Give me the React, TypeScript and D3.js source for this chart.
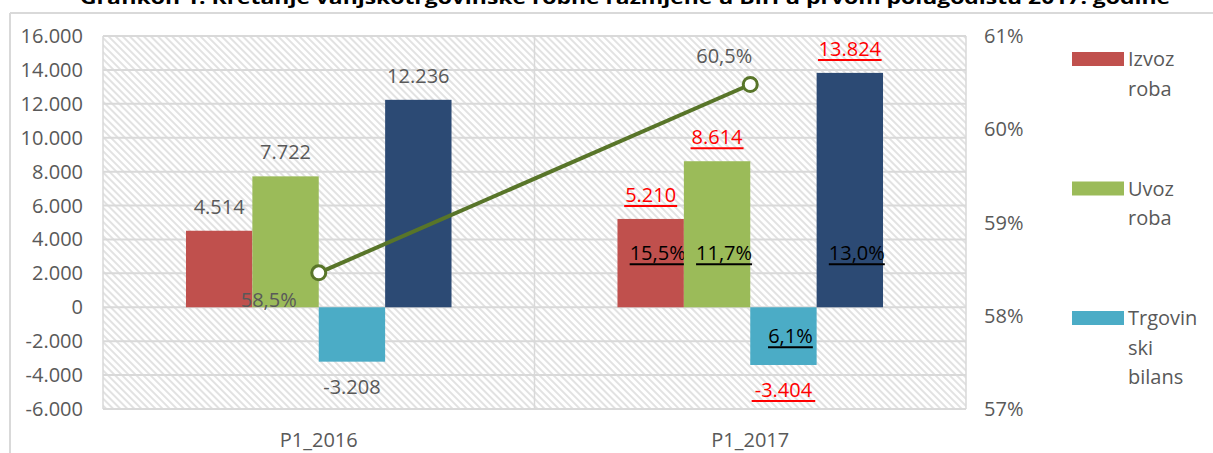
import React from 'react'
import * as d3 from 'd3'

const categories = ['P1_2016', 'P1_2017']
const izvoz = [4514, 5210]
const uvoz = [7722, 8614]
const bilans = [-3208, -3404]
const obim = [12236, 13824]
const pokrivenost = [58.46, 60.48]
const pokrivenostLabels = ['58,5%', '60,5%']
const rastLabels = [
  ['', '', '', ''],
  ['15,5%', '11,7%', '6,1%', '13,0%'],
]
const leftTicks = [-6000, -4000, -2000, 0, 2000, 4000, 6000, 8000, 10000, 12000, 14000, 16000]
const rightTicks = [57, 58, 59, 60, 61]
const legendNames = [['Izvoz', 'roba'], ['Uvoz', 'roba'], ['Trgovin', 'ski', 'bilans']]

const title = 'Grafikon 1: Kretanje vanjskotrgovinske robne razmjene u BiH u prvom polugodištu 2017. godine'

const W = 1213
const H = 453
const plot = { left: 103, right: 966, top: 36, bottom: 409 }
const colors = ['#c0504d', '#9bbb59', '#4bacc6', '#2c4a74']
const lineColor = '#587529'
const gray = '#595959'
const font = '"Open Sans", sans-serif'

const locale = d3.formatLocale({ decimal: ',', thousands: '.', grouping: [3], currency: ['', ''], minus: '-' })
const fmt = locale.format(',d')

export default function App() {
  const series = [izvoz, uvoz, bilans, obim]
  const x = d3.scaleBand().domain(categories).range([plot.left, plot.right])
  const inner = d3.scaleBand<number>().domain([0, 1, 2, 3]).range([0, x.bandwidth()]).paddingOuter(1.25)
  const y = d3.scaleLinear().domain([-6000, 16000]).range([plot.bottom, plot.top])
  const y2 = d3.scaleLinear().domain([57, 61]).range([plot.bottom, plot.top])
  const y0 = y(0)
  const line = d3.line<number>()
    .x((_, i) => (x(categories[i]) as number) + x.bandwidth() / 2)
    .y(d => y2(d))

  // which labels are red/underlined (current period)
  const hl = (ci: number) => ci === 1
  const lineLabelOffsets = [[-50, 34], [-26, -21]]

  return (
    <svg width={W} height={H} style={{ position: 'absolute', left: 0, top: 0, background: '#fff' }} fontFamily={font}>
      <defs>
        <pattern id="hatch" width="5" height="5" patternUnits="userSpaceOnUse" patternTransform="rotate(-45)">
          <rect width="5" height="5" fill="#fff" />
          <line x1="1" y1="0" x2="1" y2="5" stroke="#e2e2e2" strokeWidth="2" />
        </pattern>
      </defs>
      <text x={625} y={4} textAnchor="middle" fontSize={18} fontWeight="bold" fill="#000" textLength={1090} lengthAdjust="spacingAndGlyphs">{title}</text>
      <line x1={10} x2={W} y1={13} y2={13} stroke="#d9d9d9" strokeWidth={2} />
      <line x1={10} x2={10} y1={13} y2={H} stroke="#d9d9d9" strokeWidth={2} />

      <rect x={plot.left} y={plot.top} width={plot.right - plot.left} height={plot.bottom - plot.top} fill="url(#hatch)" />
      {leftTicks.map(t => (
        <line key={t} x1={plot.left} x2={plot.right} y1={y(t)} y2={y(t)} stroke="#d9d9d9" strokeWidth={2} />
      ))}
      {[plot.left, x.range()[0] + x.bandwidth(), plot.right].map((v, i) => (
        <line key={i} x1={v} x2={v} y1={plot.top} y2={plot.bottom} stroke="#d9d9d9" strokeWidth={1.5} />
      ))}

      {leftTicks.map(t => (
        <text key={t} x={83} y={y(t)} dy="0.35em" textAnchor="end" fontSize={20} fill={gray}>{fmt(t)}</text>
      ))}
      {rightTicks.map(t => (
        <text key={t} x={984} y={y2(t)} dy="0.35em" fontSize={20} fill={gray}>{t}%</text>
      ))}
      {categories.map(c => (
        <text key={c} x={(x(c) as number) + x.bandwidth() / 2} y={447} textAnchor="middle" fontSize={20} fill={gray}>{c}</text>
      ))}

      {categories.map((c, ci) => (
        <g key={c}>
          {series.map((s, si) => {
            const v = s[ci]
            const bx = (x(c) as number) + (inner(si) as number)
            const bw = inner.bandwidth()
            const top = Math.min(y(v), y0)
            const h = Math.abs(y(v) - y0)
            const cx = bx + bw / 2
            const ly = v >= 0 ? y(v) - 17 : y(v) + 32
            const label = fmt(v)
            const lw = label.length * 10.6
            const rast = rastLabels[ci][si]
            const ry = v >= 0 ? y0 - 47 : y0 + 36
            const rw = rast.length * 11.2
            return (
              <g key={si}>
                <rect x={bx} y={top} width={bw} height={h} fill={colors[si]} />
                <text x={cx} y={ly} textAnchor="middle" fontSize={20} fill={hl(ci) ? '#ff0000' : gray}>{label}</text>
                {hl(ci) && <line x1={cx - lw / 2} x2={cx + lw / 2} y1={ly + 4} y2={ly + 4} stroke="#ff0000" strokeWidth={2} />}
                {rast && (
                  <g>
                    <text x={cx + 7} y={ry} textAnchor="middle" fontSize={20} fill="#000">{rast}</text>
                    <line x1={cx + 7 - rw / 2} x2={cx + 7 + rw / 2} y1={ry + 4} y2={ry + 4} stroke="#000" strokeWidth={2} />
                  </g>
                )}
              </g>
            )
          })}
        </g>
      ))}

      <path d={line(pokrivenost) as string} fill="none" stroke={lineColor} strokeWidth={4} />
      {pokrivenost.map((p, i) => {
        const cx = (x(categories[i]) as number) + x.bandwidth() / 2
        return (
          <g key={i}>
            <circle cx={cx} cy={y2(p)} r={7} fill="#fff" stroke={lineColor} strokeWidth={3} />
            <text x={cx + lineLabelOffsets[i][0]} y={y2(p) + lineLabelOffsets[i][1]} textAnchor="middle" fontSize={20} fill={gray}>{pokrivenostLabels[i]}</text>
          </g>
        )
      })}

      {legendNames.map((lines, i) => {
        const ly = 52 + i * 129.5
        return (
          <g key={i}>
            <rect x={1072} y={ly} width={52} height={14} fill={colors[i]} />
            {lines.map((t, j) => (
              <text key={j} x={1128} y={ly + 14 + j * 29.5} fontSize={20} fill={gray}>{t}</text>
            ))}
          </g>
        )
      })}
    </svg>
  )
}
